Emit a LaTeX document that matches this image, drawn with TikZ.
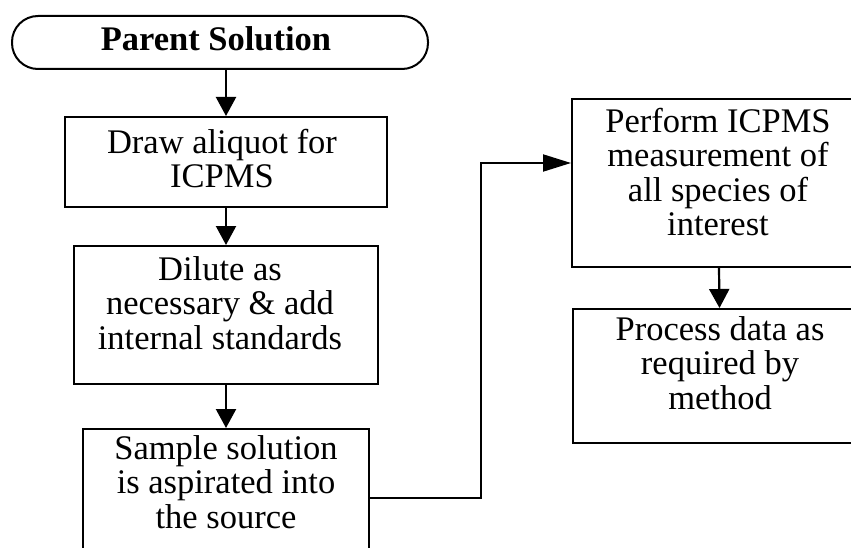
\documentclass[tikz,border=0pt]{standalone}
\usepackage{fontspec}
\setmainfont{Liberation Serif}
\usetikzlibrary{arrows.meta}
\begin{document}
\begin{tikzpicture}[x=1pt,y=-1pt,
  box/.style={draw,line width=2pt,rectangle,inner sep=0pt},
  txt/.style={align=center,inner sep=0pt,anchor=north,font=\fontsize{34.5}{34.5}\selectfont},
  arr/.style={line width=2.2pt,-{Triangle[length=19pt,width=20pt]}},
  harr/.style={line width=2pt,-{Triangle[length=28pt,width=17pt]}}]
\useasboundingbox (0,0) rectangle (851,548);
\clip (0,0) rectangle (851,548);
% terminal
\node[box,rounded corners=26pt,minimum width=416pt,minimum height=53pt] (term) at (220,42.5) {};
\node[txt,anchor=base,font=\fontsize{34.5}{34.5}\selectfont\bfseries] (tt) at (216,51) {Parent Solution};
% boxes
\node[box,minimum width=322pt,minimum height=90pt] (b1) at (226,162) {};
\node[txt] (t1) at (222,129) {Draw aliquot for\\ICPMS};
\node[box,minimum width=304pt,minimum height=138pt] (b2) at (226,315) {};
\node[txt] (t2) at (220,256) {Dilute as\\necessary \& add\\internal standards};
\node[box,minimum width=286pt,minimum height=171pt] (b3) at (226,514.5) {};
\node[txt] (t3) at (226,435) {Sample solution\\is aspirated into\\the source};
\node[box,minimum width=294pt,minimum height=168pt] (b4) at (719,183) {};
\node[txt] (t4) at (718,108) {Perform ICPMS\\measurement of\\all species of\\interest};
\node[box,minimum width=293pt,minimum height=134pt] (b5) at (719.5,376) {};
\node[txt] (t5) at (720,316) {Process data as\\required by\\method};
% connectors
\coordinate (j) at (481,498);
\coordinate (k) at (481,163);
\draw[arr] (b1.north |- term.south) -- (b1.north);
\draw[arr] (b1.south) -- (b2.north);
\draw[arr] (b2.south) -- (b3.north);
\draw[arr] (b4.south) -- (b5.north);
\draw[harr] (b3.east |- j) -- (j) -- (k) -- (b4.west |- k);
\end{tikzpicture}
\end{document}
